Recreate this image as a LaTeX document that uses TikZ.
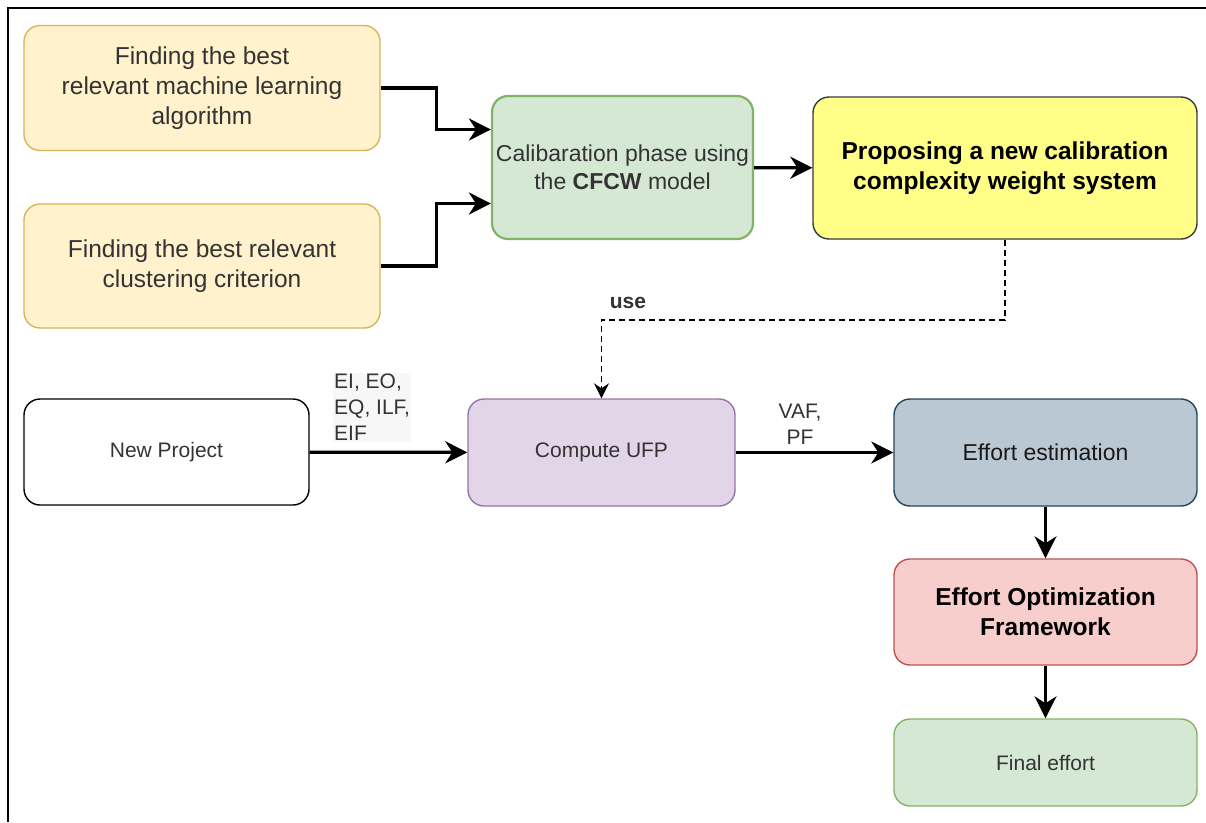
\documentclass[tikz,border=0pt]{standalone}
\usepackage{fontspec}
\setmainfont{Liberation Sans}
\usetikzlibrary{arrows.meta,calc}

\definecolor{orfill}{HTML}{FFF2CC}
\definecolor{ordraw}{HTML}{D6B656}
\definecolor{grfill}{HTML}{D5E8D4}
\definecolor{grdraw}{HTML}{82B366}
\definecolor{yefill}{HTML}{FFFF88}
\definecolor{yedraw}{HTML}{36393D}
\definecolor{pufill}{HTML}{E1D5E7}
\definecolor{pudraw}{HTML}{9673A6}
\definecolor{blfill}{HTML}{BAC8D3}
\definecolor{bldraw}{HTML}{23445D}
\definecolor{refill}{HTML}{F8CECC}
\definecolor{redraw}{HTML}{B85450}

\begin{document}
\begin{tikzpicture}[x=1pt,y=-1pt,
  box/.style={draw,rounded corners=16pt,line width=1.4pt,align=center,
    text=black!80,inner sep=0pt,font=\fontsize{21}{26}\selectfont},
  big/.style={font=\fontsize{24.5}{30}\selectfont},
  arr/.style={line width=3.2pt,-{Stealth[length=22pt,width=22pt,inset=7pt]}},
  lbl/.style={text=black!80,font=\fontsize{21}{26}\selectfont,inner sep=1pt}]
\useasboundingbox (0,0) rectangle (1206,822);
\draw[line width=2pt] (8,822) -- (8,8) -- (1206,8);

% top part
\node[box,big,fill=orfill,draw=ordraw,minimum width=356pt,minimum height=125pt]
  (mlalg) at (202,88) {Finding the best\\relevant machine learning\\algorithm};
\node[box,big,fill=orfill,draw=ordraw,minimum width=356pt,minimum height=124pt]
  (clust) at (202,266) {Finding the best relevant\\clustering criterion};
\node[box,fill=grfill,draw=grdraw,line width=2.2pt,minimum width=261pt,minimum height=143pt,
  font=\fontsize{23}{28}\selectfont] (calib) at (622.5,167.5)
  {Calibaration phase using\\the \textbf{CFCW} model};
\node[box,big,fill=yefill,draw=yedraw,text=black,font=\fontsize{24.5}{30}\selectfont\bfseries,
  minimum width=384pt,minimum height=142pt] (prop) at (1005,168)
  {Proposing a new calibration\\complexity weight system};

% bottom part
\node[box,fill=white,draw=black,minimum width=285pt,minimum height=106pt]
  (newp) at (166.5,452) {New Project};
\node[box,fill=pufill,draw=pudraw,minimum width=267pt,minimum height=107pt]
  (ufp) at (601.5,452.5) {Compute UFP};
\node[box,fill=blfill,draw=bldraw,text=black!90,font=\fontsize{23}{28}\selectfont,
  minimum width=303pt,minimum height=107pt] (esti) at (1045.5,452.5) {Effort estimation};
\node[box,big,fill=refill,draw=redraw,text=black,font=\fontsize{24.5}{30}\selectfont\bfseries,
  minimum width=303pt,minimum height=106pt] (optim) at (1045.5,612)
  {Effort Optimization\\Framework};
\node[box,fill=grfill,draw=grdraw,minimum width=303pt,minimum height=87pt]
  (final) at (1045.5,762.5) {Final effort};

% labels
\node[lbl,font=\fontsize{21}{26}\selectfont\bfseries] (use) at (628,303) {use};
\node[lbl,align=left,fill=black!3,anchor=north west] (inputs) at (333,373)
  {EI, EO,\\EQ, ILF,\\EIF};
\node[lbl,align=center] (vafpf) at (800,424) {VAF,\\PF};

% connectors
\draw[arr] (mlalg.east) -- ++(56,0) |- ($(calib.west)+(0,-38)$);
\draw[arr] (clust.east) -- ++(56,0) |- ($(calib.west)+(0,36)$);
\draw[arr] (calib) -- (prop);
\draw[line width=1.6pt,dash pattern=on 6pt off 4pt,-{Stealth[length=15pt,width=15pt,inset=5pt]}]
  (prop.south) -- ++(0,80) -| (ufp.north);
\draw[arr] (newp) -- (ufp);
\draw[arr] (ufp) -- (esti);
\draw[arr] (esti) -- (optim);
\draw[arr] (optim) -- (final);
\end{tikzpicture}
\end{document}
